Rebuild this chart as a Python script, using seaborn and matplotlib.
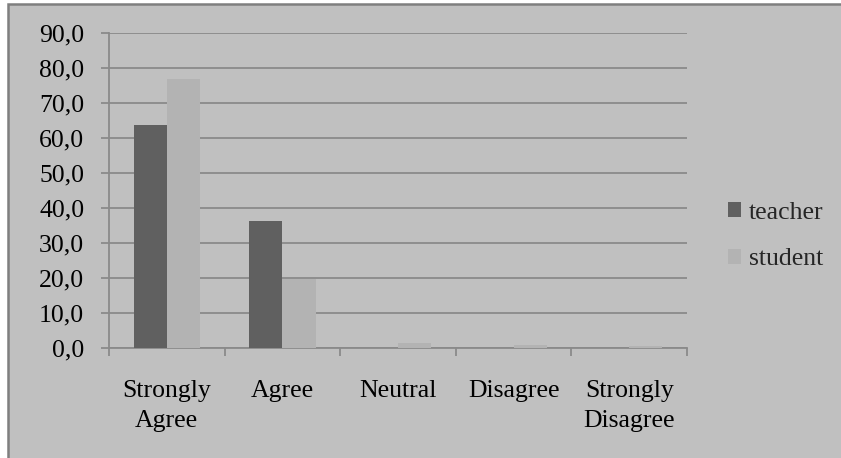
import matplotlib
matplotlib.use("Agg")
import matplotlib.pyplot as plt
from matplotlib.patches import Rectangle
from matplotlib.ticker import FuncFormatter, FixedLocator
import seaborn as sns
import pandas as pd

# Survey responses (% of each group)
categories = ["Strongly\nAgree", "Agree", "Neutral", "Disagree", "Strongly\nDisagree"]
teacher = [63.6, 36.4, 0.0, 0.0, 0.0]
student = [77.0, 19.8, 1.4, 0.9, 0.5]
groups = ["teacher", "student"]
y_ticks = [0, 10, 20, 30, 40, 50, 60, 70, 80, 90]

df = pd.DataFrame({
    "category": categories * 2,
    "group": [groups[0]] * len(categories) + [groups[1]] * len(categories),
    "value": teacher + student,
})

BG = "#c0c0c0"
GRID = "#8a8a8a"
FS = 18.5
sns.set_theme(style="white")
plt.rcParams["font.family"] = ["Liberation Serif", "DejaVu Serif"]

W, H = 841, 458
fig = plt.figure(figsize=(W / 100, H / 100), dpi=100, facecolor="white")

# chart area frame
fig.add_artist(Rectangle((8 / W, -0.05), 1.1, (H - 4) / H + 0.05,
                         transform=fig.transFigure, facecolor=BG,
                         edgecolor="#7f7f7f", linewidth=1.8, zorder=0))

ax = fig.add_axes([109 / W, (H - 348) / H, (687 - 109) / W, (348 - 33) / H])
ax.set_facecolor(BG)

sns.barplot(data=df, x="category", y="value", hue="group", order=categories,
            hue_order=groups, palette=["#606060", "#b3b3b3"], width=0.575,
            linewidth=0, saturation=1, ax=ax, legend=True, zorder=3)

ax.set_ylim(0, 90)
ax.set_xlim(-0.5, len(categories) - 0.5)
ax.yaxis.set_major_locator(FixedLocator(y_ticks))
ax.yaxis.set_major_formatter(FuncFormatter(lambda v, p: f"{v:.1f}".replace(".", ",")))
ax.grid(axis="y", color=GRID, linewidth=1.3, zorder=0)
ax.set_axisbelow(True)

for side in ["top", "right"]:
    ax.spines[side].set_visible(False)
for side in ["left", "bottom"]:
    ax.spines[side].set_color(GRID)
    ax.spines[side].set_linewidth(1.3)

ax.set_xlabel("")
ax.set_ylabel("")
ax.tick_params(axis="y", which="major", length=5.8, width=1.3, color=GRID,
               direction="out", pad=12, labelsize=FS, labelcolor="black", left=True)
ax.tick_params(axis="x", which="major", length=0, pad=23, labelsize=FS,
               labelcolor="black")
ax.set_xticks(range(len(categories)))
ax.set_xticklabels(categories, linespacing=1.45)
ax.set_xticks([i - 0.5 for i in range(len(categories) + 1)], minor=True)
ax.tick_params(axis="x", which="minor", length=5.8, width=1.3, color=GRID,
               direction="out", bottom=True)

handles, labels = ax.get_legend_handles_labels()
ax.get_legend().remove()
fig.legend(handles, labels, loc="center left", bbox_to_anchor=(728 / W, (H - 236) / H),
           frameon=False, fontsize=FS, handlelength=0.52, handleheight=0.52,
           handletextpad=0.3, labelspacing=0.95, borderaxespad=0, borderpad=0)

fig.savefig("out.png", dpi=100, facecolor="white")
